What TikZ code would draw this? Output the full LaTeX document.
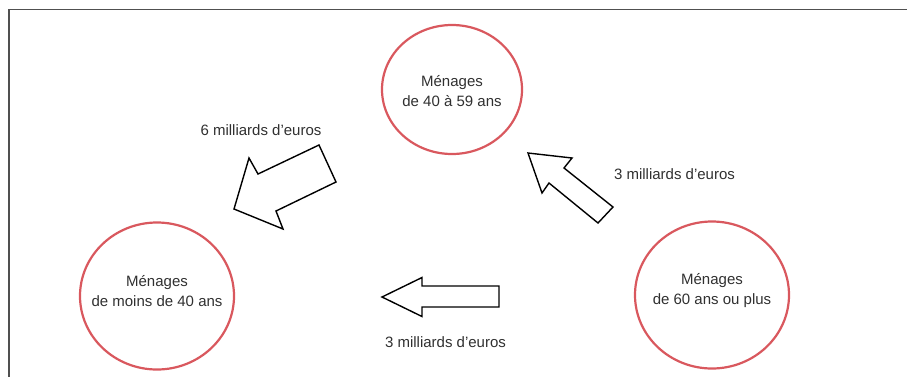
\documentclass[tikz,border=0pt]{standalone}
\usepackage{fontspec}
\setmainfont{Liberation Sans}
\usetikzlibrary{shapes.geometric}
\definecolor{ringred}{HTML}{D9585E}
\definecolor{txtgray}{HTML}{303030}
\definecolor{framegray}{HTML}{505050}
\tikzset{
  ring/.style={ellipse, draw=ringred, line width=2.2pt, inner sep=0pt, outer sep=0pt},
  ringtext/.style={text=txtgray, align=center, inner sep=0pt, font=\fontsize{15}{20}\selectfont},
  flow/.style={text=txtgray, font=\fontsize{15}{20}\selectfont, inner sep=0pt},
  blockarrow/.style={draw=black, line width=1.4pt, line join=miter, fill=white},
  frameline/.style={draw=framegray, line width=1.7pt}
}
\begin{document}
\begin{tikzpicture}[x=1pt,y=-1pt]
\useasboundingbox (0,0) rectangle (907,376);
% frame
\coordinate (fbl) at (8.7,380);
\coordinate (ftl) at (8.7,9.5);
\coordinate (ftr) at (910,9.5);
\draw[frameline] (fbl) -- (ftl) -- (ftr);
% households
\node[ring, minimum width=140pt, minimum height=129pt] (mid) at (452,89.5) {};
\node[ringtext] (midt) at (452,91) {Ménages\\de 40 à 59 ans};
\node[ring, minimum width=154pt, minimum height=147pt] (young) at (157,296) {};
\node[ringtext] (youngt) at (157,291.5) {Ménages\\de moins de 40 ans};
\node[ring, minimum width=154pt, minimum height=147pt] (old) at (712,295) {};
\node[ringtext] (oldt) at (712,291) {Ménages\\de 60 ans ou plus};
% block arrows
\draw[blockarrow] (234,209) -- (249,158) -- (258,174) -- (319,145) -- (336,182) -- (276,211) -- (283,229) -- cycle;
\draw[blockarrow] (528,153) -- (572,158) -- (564,168) -- (613,207) -- (598,223) -- (549,183) -- (542,193) -- cycle;
\draw[blockarrow] (382,297) -- (422,277.5) -- (422,286) -- (499,286) -- (499,307) -- (422,307) -- (422,316.5) -- cycle;
% labels
\node[flow] (l1) at (261,130) {6 milliards d’euros};
\node[flow] (l2) at (674.5,174.5) {3 milliards d’euros};
\node[flow] (l3) at (445.5,342) {3 milliards d’euros};
\end{tikzpicture}
\end{document}
